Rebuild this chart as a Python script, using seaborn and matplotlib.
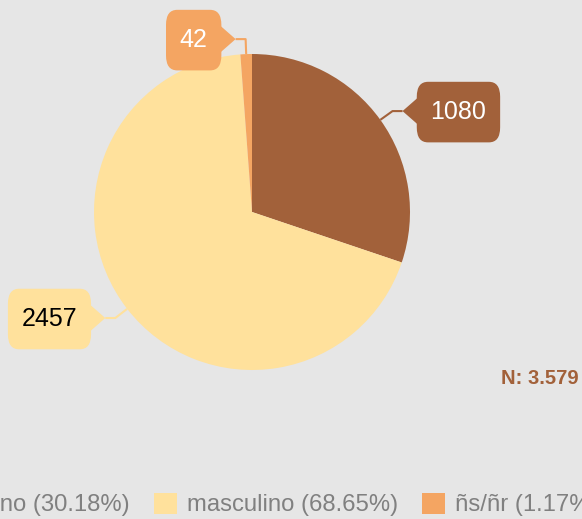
import numpy as np
import matplotlib
matplotlib.use("Agg")
import matplotlib.pyplot as plt
import seaborn as sns

# datos
categorias = ["femenino", "masculino", "ñs/ñr"]
valores = [1080, 2457, 42]
colores = ["#A2613A", "#FFE19C", "#F4A562"]
color_texto = ["white", "black", "white"]
total_txt = "N: 3.579"

sns.set_theme(style="white")
plt.rcParams["font.family"] = ["Liberation Sans", "DejaVu Sans"]

W, H = 582, 519
fondo = "#E6E6E6"
fig = plt.figure(figsize=(W / 100, H / 100), dpi=100, facecolor=fondo)
ax = fig.add_axes([0, 0, 1, 1])
ax.set_facecolor(fondo)

centro = (252, 307)
radio = 158
paleta = sns.color_palette(colores)

wedges, _ = ax.pie(valores, colors=paleta, startangle=90, counterclock=False,
                   center=centro, radius=radio, wedgeprops=dict(linewidth=0))

# etiquetas tipo globo
fs = 18
pad_px = 14
for w, val, col, tcol in zip(wedges, valores, paleta, color_texto):
    ang = np.deg2rad((w.theta1 + w.theta2) / 2)
    c, s = np.cos(ang), np.sin(ang)
    borde = (centro[0] + radio * c, centro[1] + radio * s)
    codo = (centro[0] + (radio + 15) * c, centro[1] + (radio + 15) * s)
    lado = 1 if c >= 0 else -1
    punta = (codo[0] + lado * 10, codo[1])
    ax.plot([borde[0], codo[0], punta[0]], [borde[1], codo[1], punta[1]],
            color=col, lw=1.5, solid_capstyle="butt")
    base = punta[0] + lado * 16
    ax.fill([punta[0], base, base], [punta[1], punta[1] + 14, punta[1] - 14],
            color=col, lw=0)
    tx = punta[0] + lado * (14 + pad_px)
    ax.text(tx, punta[1] - 1, str(val), fontsize=fs, color=tcol,
            ha="left" if lado > 0 else "right", va="center",
            bbox=dict(boxstyle="round,pad=0.55,rounding_size=0.45",
                      mutation_aspect=1.33, fc=col, ec="none"))

ax.text(579, H - 378, total_txt, fontsize=14.5, fontweight="bold",
        color="#A2613A", ha="right", va="center")

porc = [v / sum(valores) * 100 for v in valores]
etiquetas = [f"{n} ({p:.2f}%)" for n, p in zip(categorias, porc)]
ax.legend(wedges, etiquetas, ncol=3, loc="center",
          bbox_to_anchor=(247, H - 504.5), bbox_transform=ax.transData,
          frameon=False, fontsize=17.2, labelcolor="#808080",
          handlelength=0.97, handleheight=0.97, handletextpad=0.42,
          columnspacing=1.0, borderpad=0)

ax.set_xlim(0, W)
ax.set_ylim(0, H)
ax.set_aspect("equal")
ax.axis("off")

fig.savefig("out.png", dpi=100, facecolor=fondo)
